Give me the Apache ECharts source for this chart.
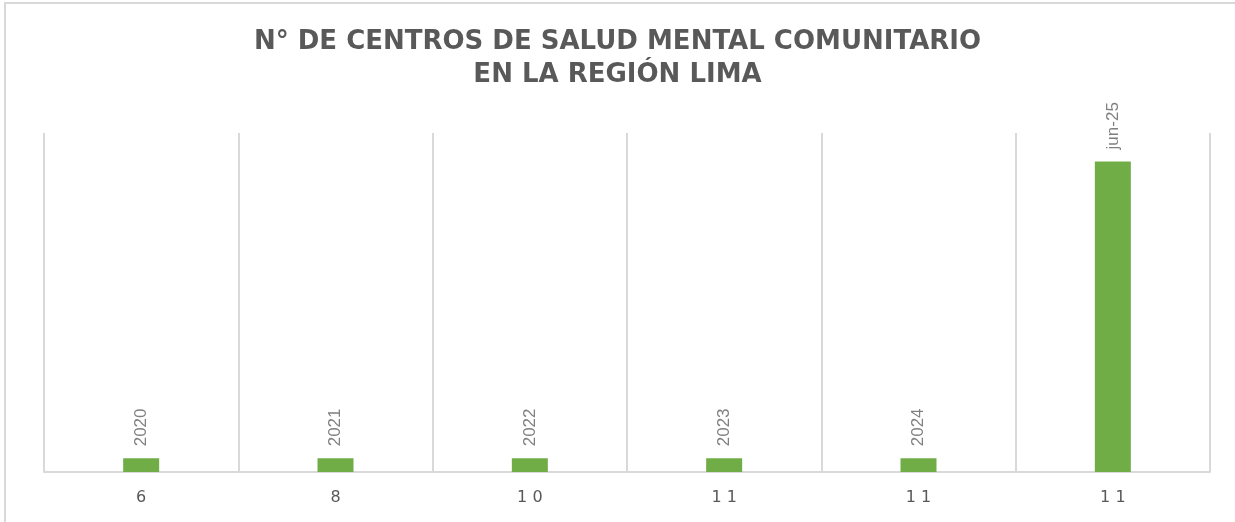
<!DOCTYPE html>
<html>
<head>
<meta charset="utf-8">
<script src="https://cdn.jsdelivr.net/npm/echarts@6/dist/echarts.min.js"></script>
<style>
  html, body { margin: 0; padding: 0; background: #fff; }
  #main { width: 1235px; height: 522px; }
</style>
</head>
<body>
<div id="main"></div>
<script>
// eje x: numero de centros
var categorias = ['6', '8', '10', '11', '11', '11'];
// valores de las barras (anio / fecha serial)
var valores = [2020, 2021, 2022, 2023, 2024, 45809];
// etiquetas de cada barra
var etiquetas = ['2020', '2021', '2022', '2023', '2024', 'jun-25'];

var myChart = echarts.init(document.getElementById('main'));
var option = {
    animation: false,
    backgroundColor: '#fff',
    title: {
        text: 'N° DE CENTROS DE SALUD MENTAL COMUNITARIO\nEN LA REGIÓN LIMA',
        left: 'center',
        top: 21,
        textStyle: {
            fontFamily: 'DejaVu Sans',
            fontWeight: 'bold',
            fontSize: 26,
            lineHeight: 33,
            color: '#595959'
        }
    },
    graphic: [{
        type: 'rect',
        shape: { x: 5, y: 3, width: 1240, height: 540 },
        style: { fill: 'none', stroke: '#d9d9d9', lineWidth: 2 },
        silent: true
    }],
    grid: { left: 44, right: 25, top: 133, bottom: 50 },
    xAxis: {
        type: 'category',
        data: categorias,
        axisLine: { lineStyle: { color: '#d9d9d9', width: 2 } },
        axisTick: { show: false },
        splitLine: { show: true, lineStyle: { color: '#d9d9d9', width: 2 } },
        axisLabel: {
            margin: 18,
            fontFamily: 'DejaVu Sans',
            fontSize: 16,
            color: '#595959',
            formatter: function (v) { return v.split('').join(' '); }
        }
    },
    yAxis: {
        type: 'value',
        min: 0,
        max: 50000,
        show: false,
        splitLine: { show: false }
    },
    series: [{
        type: 'bar',
        data: valores,
        barWidth: 36,
        itemStyle: { color: '#70ad47' },
        label: {
            show: true,
            position: 'top',
            rotate: 90,
            align: 'left',
            verticalAlign: 'middle',
            distance: 12,
            fontFamily: 'Liberation Sans',
            fontSize: 17,
            color: '#808080',
            formatter: function (p) { return etiquetas[p.dataIndex]; }
        }
    }]
};
myChart.setOption(option);
</script>
</body>
</html>
